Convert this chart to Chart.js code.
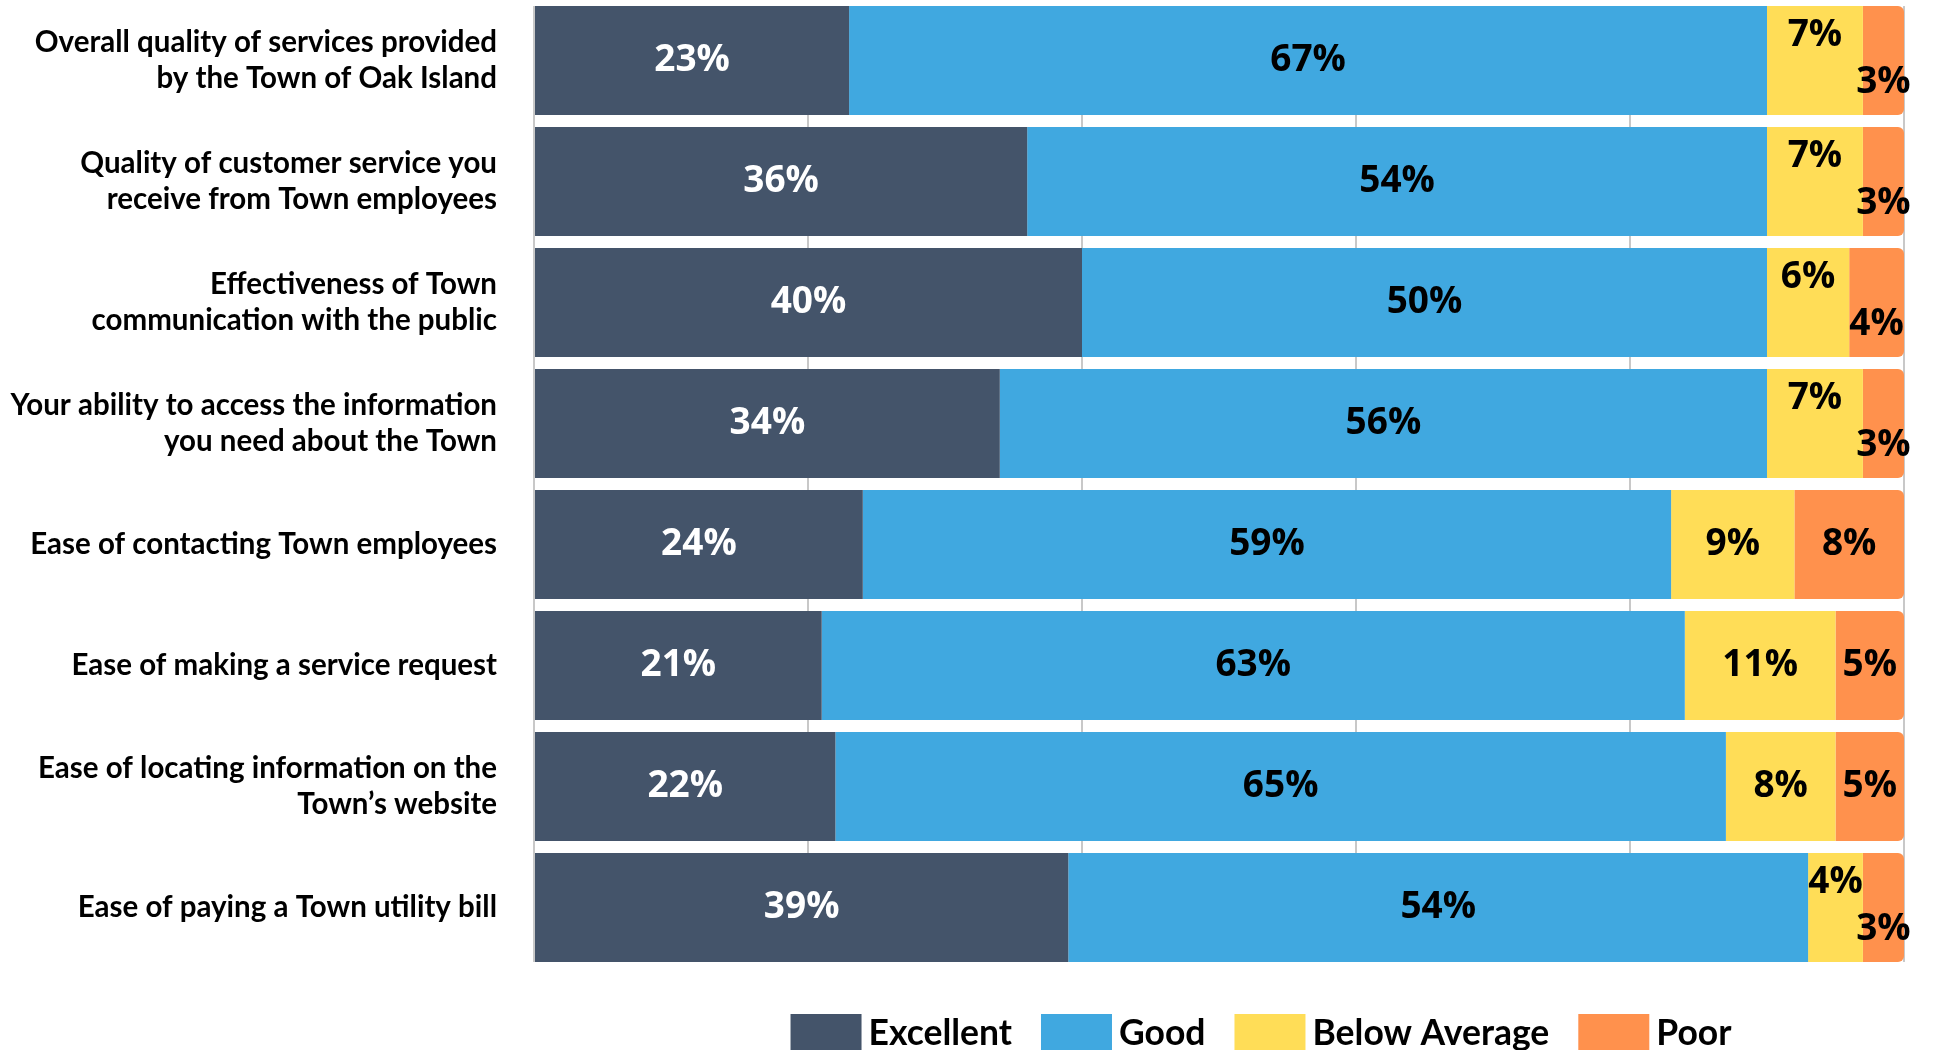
<!DOCTYPE html>
<html><head><meta charset="utf-8">
<script src="https://cdn.jsdelivr.net/npm/chart.js@4.4.1/dist/chart.umd.min.js"></script>
<style>html,body{margin:0;padding:0;background:#fff;} #wrap{width:1935px;height:1050px;position:relative;}</style>
</head><body><div id="wrap"><canvas id="c"></canvas></div>
<script>
const categories = [
  ["Overall quality of services provided", "by the Town of Oak Island"],
  ["Quality of customer service you", "receive from Town employees"],
  ["Effectiveness of Town", "communication with the public"],
  ["Your ability to access the information", "you need about the Town"],
  "Ease of contacting Town employees",
  "Ease of making a service request",
  ["Ease of locating information on the", "Town’s website"],
  "Ease of paying a Town utility bill"
];
const seriesNames = ["Excellent", "Good", "Below Average", "Poor"];
const excellent = [23, 36, 40, 34, 24, 21, 22, 39];
const good = [67, 54, 50, 56, 59, 63, 65, 54];
const belowAverage = [7, 7, 6, 7, 9, 11, 8, 4];
const poor = [3, 3, 4, 3, 8, 5, 5, 3];
const xTicks = [0, 20, 40, 60, 80, 100];

const colors = ["#44546a", "#40a8e0", "#ffdd57", "#ff914d"];
const labelColors = ["#ffffff", "#000000", "#000000", "#000000"];
const seriesValues = [excellent, good, belowAverage, poor];

// keeps grid lines only in the gaps between bars (not above the first / below the last bar)
const gridTrim = {
  id: 'gridTrim',
  beforeDatasetsDraw(chart) {
    const meta = chart.getDatasetMeta(0).data;
    if (!meta.length) return;
    const a = chart.chartArea, ctx = chart.ctx;
    const first = meta[0], lastEl = meta[meta.length - 1];
    ctx.save();
    ctx.fillStyle = '#ffffff';
    ctx.fillRect(a.left - 2, a.top, a.width + 4, (first.y - first.height / 2) - a.top);
    const lb = lastEl.y + lastEl.height / 2;
    ctx.fillRect(a.left - 2, lb, a.width + 4, a.bottom - lb + 2);
    ctx.restore();
  }
};

const valueLabels = {
  id: 'valueLabels',
  afterDatasetsDraw(chart) {
    const ctx = chart.ctx;
    ctx.save();
    ctx.font = '700 37px "Open Sans"';
    ctx.textAlign = 'center';
    ctx.textBaseline = 'middle';
    const n = chart.data.labels.length;
    const last = chart.data.datasets.length - 1;
    for (let i = 0; i < n; i++) {
      const pm = chart.getDatasetMeta(last).data[i];
      const tw = ctx.measureText(chart.data.datasets[last].data[i] + '%').width;
      const narrow = Math.abs(pm.x - pm.base) < tw + 8;
      chart.data.datasets.forEach((ds, d) => {
        const el = chart.getDatasetMeta(d).data[i];
        let dy = 0;
        if (narrow && d === last) dy = 22;
        if (narrow && d === last - 1) dy = -25;
        ctx.fillStyle = labelColors[d];
        ctx.fillText(ds.data[i] + '%', (el.x + el.base) / 2, el.y + dy);
      });
    }
    ctx.restore();
  }
};

const bottomLegend = {
  id: 'bottomLegend',
  afterDraw(chart) {
    const ctx = chart.ctx;
    ctx.save();
    ctx.font = '700 35.5px Lato';
    ctx.textBaseline = 'middle';
    ctx.textAlign = 'left';
    const boxW = 71, boxH = 42, gapText = 7, gapItem = 29;
    const widths = seriesNames.map(s => ctx.measureText(s).width);
    const total = widths.reduce((a, w) => a + boxW + gapText + w, 0) + gapItem * (seriesNames.length - 1);
    const cx = (chart.chartArea.left + chart.chartArea.right) / 2 + 42;
    let x = cx - total / 2;
    const top = chart.chartArea.bottom + 46;
    seriesNames.forEach((s, k) => {
      ctx.fillStyle = colors[k];
      ctx.fillRect(x, top, boxW, boxH);
      ctx.fillStyle = '#000';
      ctx.fillText(s, x + boxW + gapText, top + 20);
      x += boxW + gapText + widths[k] + gapItem;
    });
    ctx.restore();
  }
};

new Chart(document.getElementById('c'), {
  type: 'bar',
  data: {
    labels: categories,
    datasets: seriesNames.map((name, k) => ({
      label: name,
      data: seriesValues[k],
      backgroundColor: colors[k],
      borderWidth: 0,
      barPercentage: 0.9,
      categoryPercentage: 1.0,
      borderRadius: k === seriesNames.length - 1 ? {topRight: 6, bottomRight: 6, topLeft: 0, bottomLeft: 0} : 0,
      borderSkipped: false
    }))
  },
  options: {
    indexAxis: 'y',
    responsive: true,
    maintainAspectRatio: false,
    animation: false,
    layout: {padding: {top: 0, right: 31, bottom: 82, left: 0}},
    plugins: {legend: {display: false}, tooltip: {enabled: false}},
    scales: {
      x: {
        stacked: true, min: 0, max: 100,
        ticks: {display: false},
        afterBuildTicks(s) { s.ticks = xTicks.map(v => ({value: v})); },
        grid: {color: '#c8c8c8', lineWidth: 2, drawTicks: false},
        border: {display: false},
        afterFit(s) { s.height = 0; s.paddingLeft = 0; s.paddingRight = 0; }
      },
      y: {
        stacked: true,
        grid: {display: false, drawTicks: false},
        border: {display: false},
        ticks: {color: '#000', padding: 37, font: {family: 'Lato', size: 29.5, weight: '700', lineHeight: 1.22}},
        afterFit(s) { s.width = 534; s.paddingTop = 0; s.paddingBottom = 0; }
      }
    }
  },
  plugins: [gridTrim, valueLabels, bottomLegend]
});
</script>
</body></html>
